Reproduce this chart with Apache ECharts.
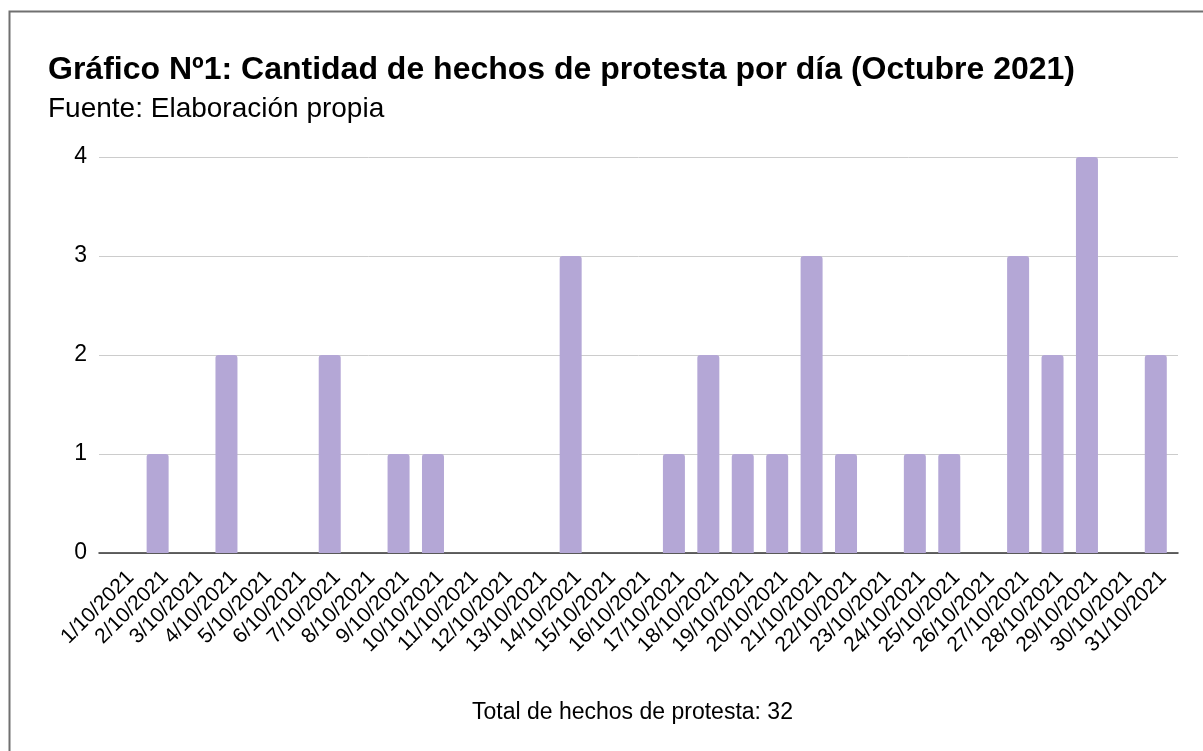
<!DOCTYPE html>
<html>
<head>
<meta charset="utf-8">
<script src="https://cdn.jsdelivr.net/npm/echarts@6/dist/echarts.min.js"></script>
<style>
html,body{margin:0;padding:0;background:#fff;}
#chart{width:1203px;height:751px;}
</style>
</head>
<body>
<div id="chart"></div>
<script>
const categories = ['1/10/2021','2/10/2021','3/10/2021','4/10/2021','5/10/2021','6/10/2021','7/10/2021','8/10/2021','9/10/2021','10/10/2021','11/10/2021','12/10/2021','13/10/2021','14/10/2021','15/10/2021','16/10/2021','17/10/2021','18/10/2021','19/10/2021','20/10/2021','21/10/2021','22/10/2021','23/10/2021','24/10/2021','25/10/2021','26/10/2021','27/10/2021','28/10/2021','29/10/2021','30/10/2021','31/10/2021'];
const values = [0,1,0,2,0,0,2,0,1,1,0,0,0,3,0,0,1,2,1,1,3,1,0,1,1,0,3,2,4,0,2];
const yTicks = [0,1,2,3,4];

const FONT = '"Liberation Sans", Arial, sans-serif';
const chart = echarts.init(document.getElementById('chart'));
chart.setOption({
  backgroundColor: '#fff',
  animation: false,
  title: [
    {text: 'Gráfico Nº1: Cantidad de hechos de protesta por día (Octubre 2021)', left: 43, top: 49,
     textStyle: {fontFamily: FONT, fontSize: 32, fontWeight: 'bold', color: '#000'}},
    {text: 'Fuente: Elaboración propia', left: 43, top: 90,
     textStyle: {fontFamily: FONT, fontSize: 28, fontWeight: 'normal', color: '#000'}},
    {text: 'Total de hechos de protesta: ' + values.reduce((a,b)=>a+b,0), left: 467, top: 696,
     textStyle: {fontFamily: FONT, fontSize: 23, fontWeight: 'normal', color: '#000'}}
  ],
  graphic: [
    {type: 'rect', left: 7, top: 9, shape: {x: 0, y: 0, width: 1300, height: 800},
     style: {fill: 'none', stroke: '#707070', lineWidth: 2}, silent: true}
  ],
  grid: [
    {left: 99, right: 25, top: 157, bottom: 198},
    {left: 106, right: 30, top: 157, bottom: 198}
  ],
  xAxis: [
    {type: 'value', gridIndex: 0, min: 0, max: 1, show: true,
     axisLabel: {show: false}, axisTick: {show: false}, splitLine: {show: false},
     axisLine: {show: true, onZero: false, lineStyle: {color: '#333', width: 1.5}}},
    {type: 'category', gridIndex: 1, data: categories,
     axisLine: {show: false}, axisTick: {show: false},
     axisLabel: {interval: 0, rotate: 45, fontFamily: FONT, fontSize: 21, color: '#000', margin: 14,
                 verticalAlign: 'top'}}
  ],
  yAxis: [
    {type: 'value', gridIndex: 0, min: yTicks[0], max: yTicks[yTicks.length-1], interval: 1,
     axisLine: {show: false}, axisTick: {show: false},
     axisLabel: {fontFamily: FONT, fontSize: 23, color: '#000', margin: 12},
     splitLine: {lineStyle: {color: '#cccccc', width: 1}}},
    {type: 'value', gridIndex: 1, min: yTicks[0], max: yTicks[yTicks.length-1], interval: 1, show: false}
  ],
  series: [
    {type: 'bar', xAxisIndex: 1, yAxisIndex: 1, data: values, barWidth: 22,
     itemStyle: {color: '#b4a7d6', borderRadius: [3,3,0,0]}, z: 1}
  ]
});
</script>
</body>
</html>
